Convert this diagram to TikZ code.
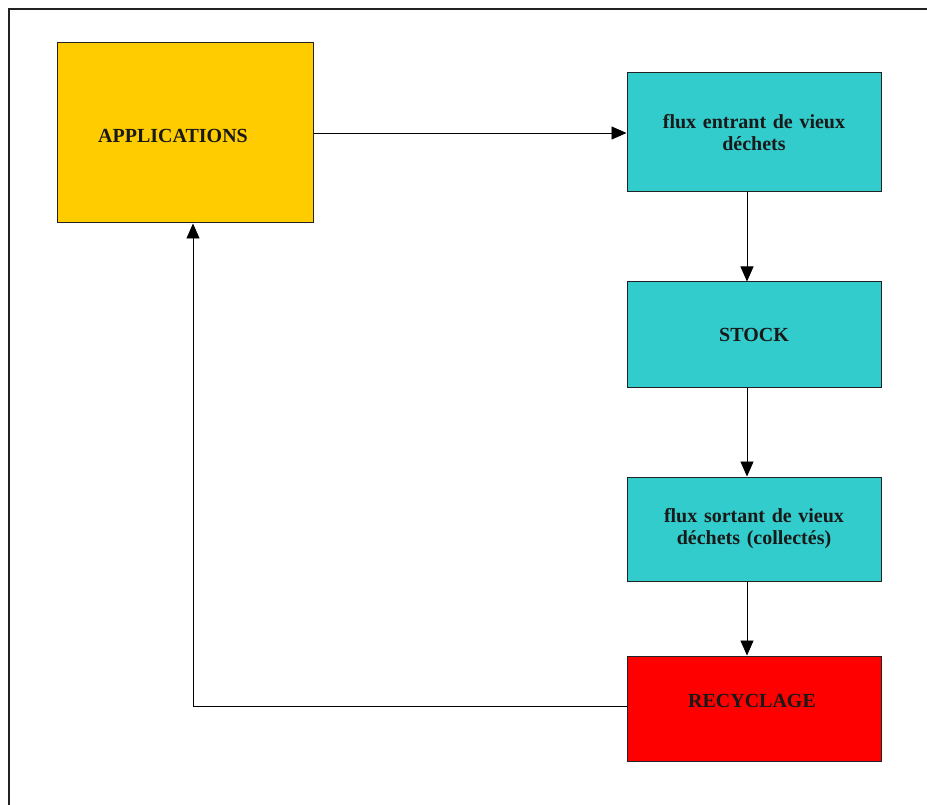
\documentclass[tikz,border=0pt]{standalone}
\usepackage{fontspec}
\setmainfont{Liberation Serif}
\usetikzlibrary{arrows.meta}
\definecolor{appyellow}{HTML}{FFCC00}
\definecolor{boxcyan}{HTML}{33CCCC}
\definecolor{recred}{HTML}{FF0000}
\definecolor{edge}{HTML}{222222}
\tikzset{
  box/.style={draw=edge, line width=1pt, minimum width=254pt, anchor=center, inner sep=0pt, text width=250pt, align=center, font=\fontsize{20}{22}\selectfont\bfseries, text=black!90},
  flow/.style={draw=black, line width=0.9pt, -{Triangle[length=15pt,width=13pt]}},
  plain/.style={draw=black, line width=0.9pt}
}
\begin{document}
\begin{tikzpicture}[x=1pt,y=-1pt]
\useasboundingbox (0,0) rectangle (927,805);
\clip (0,0) rectangle (927,805);
\draw[draw=edge, line width=1.2pt] (9,9) rectangle (960,840);
\node[box, fill=appyellow, minimum width=256pt, minimum height=180pt, text width=200pt] (app) at (185,133) {};
\node[font=\fontsize{20}{22}\selectfont\bfseries, text=black!90, inner sep=0pt] (apptxt) at (173,136) {APPLICATIONS};
\node[box, fill=boxcyan, minimum height=119pt] (fe) at (754,132.5) {flux entrant de vieux\\déchets};
\node[box, fill=boxcyan, minimum height=105pt] (st) at (754,334.5) {STOCK};
\node[box, fill=boxcyan, minimum height=104pt] (fs) at (754,529) {flux sortant de vieux\\déchets (collectés)};
\node[box, fill=recred, minimum height=105pt] (rec) at (754,708.5) {};
\node[font=\fontsize{20}{22}\selectfont\bfseries, text=black!90, inner sep=0pt] (rectxt) at (752,701) {RECYCLAGE};
\draw[flow] (app.east) -- (app.east -| fe.west);
\draw[flow] ([xshift=-7pt]fe.south) -- ([xshift=-7pt]st.north);
\draw[flow] ([xshift=-7pt]st.south) -- ([xshift=-7pt]fs.north);
\draw[flow] ([xshift=-7pt]fs.south) -- ([xshift=-7pt]rec.north);
\coordinate (corner) at (193,706);
\draw[plain] (rec.west |- corner) -- (corner);
\draw[flow] (corner) -- (corner |- app.south);
\end{tikzpicture}
\end{document}
